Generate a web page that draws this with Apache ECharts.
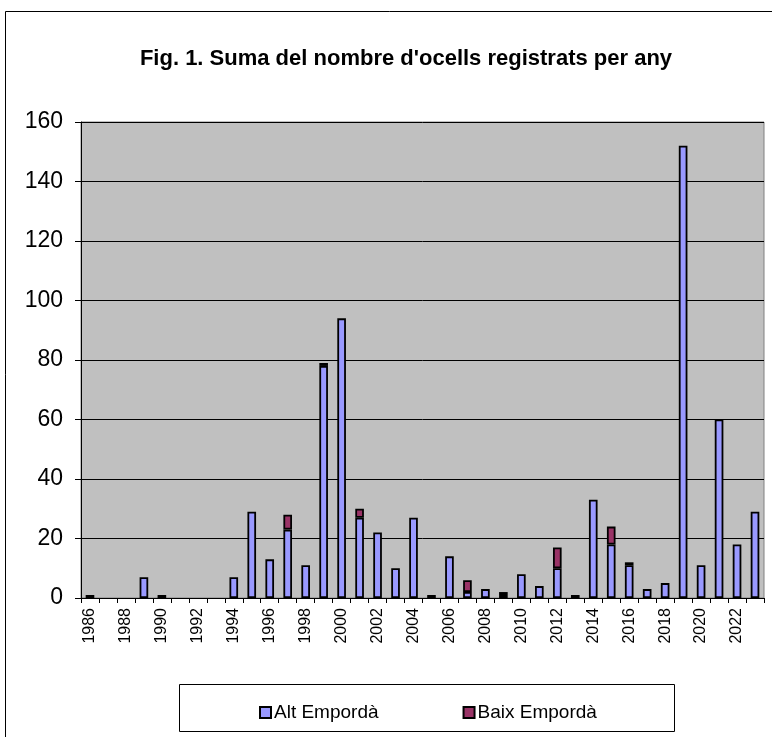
<!DOCTYPE html>
<html>
<head>
<meta charset="utf-8">
<script src="https://cdn.jsdelivr.net/npm/echarts@6/dist/echarts.min.js"></script>
<style>
html,body{margin:0;padding:0;background:#fff;}
#chart{width:772px;height:737px;}
</style>
</head>
<body>
<div id="chart"></div>
<script>
var years = ['1986','1987','1988','1989','1990','1991','1992','1993','1994','1995','1996','1997','1998','1999','2000','2001','2002','2003','2004','2005','2006','2007','2008','2009','2010','2011','2012','2013','2014','2015','2016','2017','2018','2019','2020','2021','2022','2023'];
var altEmporda = [0,0,0,7,1,0,0,0,7,29,13,23,11,78,94,27,22,10,27,1,14,2,3,1,8,4,10,1,33,18,11,3,5,152,11,60,18,29];
var baixEmporda = [1,0,0,0,0,0,0,0,0,0,0,5,0,1,0,3,0,0,0,0,0,4,0,1,0,0,7,0,0,6,1,0,0,0,0,0,0,0];
var yTicks = [0,20,40,60,80,100,120,140,160];
var titleText = "Fig. 1. Suma del nombre d'ocells registrats per any";
var seriesNames = ['Alt Empordà','Baix Empordà'];

function noZero(arr){ return arr.map(function(v){ return v === 0 ? null : v; }); }

var chart = echarts.init(document.getElementById('chart'));
var font = 'Liberation Sans, Arial, sans-serif';
chart.setOption({
  animation:false,
  backgroundColor:'#ffffff',
  textStyle:{fontFamily:font},
  title:{
    text:titleText, left:401, textAlign:'center', top:43,
    textStyle:{fontFamily:font,fontSize:22,fontWeight:'bold',color:'#000'}
  },
  graphic:[
    {type:'polyline', shape:{points:[[5.5,800],[5.5,11.5],[800,11.5]]}, style:{stroke:'#000',lineWidth:1,fill:null}, silent:true},
    {type:'rect', shape:{x:179.5,y:684.5,width:495,height:47}, style:{stroke:'#000',lineWidth:1,fill:'#fff'}, silent:true, z:-1}
  ],
  legend:{
    data:seriesNames, left:254, top:698, itemWidth:11, itemHeight:11, itemGap:84,
    icon:'rect',
    textStyle:{fontFamily:font,fontSize:19,color:'#000',padding:[0,0,0,-2]}
  },
  grid:{left:81, right:8, top:122, bottom:139, show:true, backgroundColor:'#c0c0c0', borderColor:'#808080', borderWidth:1},
  xAxis:{
    type:'category', data:years,
    axisLine:{lineStyle:{color:'#000',width:1}},
    axisTick:{show:true, interval:0, alignWithLabel:false, length:5, lineStyle:{color:'#000'}},
    axisLabel:{interval:1, rotate:90, fontSize:16, color:'#000', fontFamily:font, margin:10}
  },
  yAxis:{
    type:'value', min:0, max:160, interval:20,
    axisLine:{show:true, lineStyle:{color:'#000'}},
    axisTick:{show:true, length:6, lineStyle:{color:'#000'}},
    axisLabel:{fontSize:23, color:'#000', fontFamily:font, margin:18},
    splitLine:{lineStyle:{color:'#000',width:1}}
  },
  series:[
    {name:seriesNames[0], type:'bar', stack:'total', data:noZero(altEmporda), barWidth:'48%',
     itemStyle:{color:'#9999ff', borderColor:'#000', borderWidth:1.8}},
    {name:seriesNames[1], type:'bar', stack:'total', data:noZero(baixEmporda), barWidth:'48%',
     itemStyle:{color:'#993366', borderColor:'#000', borderWidth:1.8}}
  ]
});
</script>
</body>
</html>
